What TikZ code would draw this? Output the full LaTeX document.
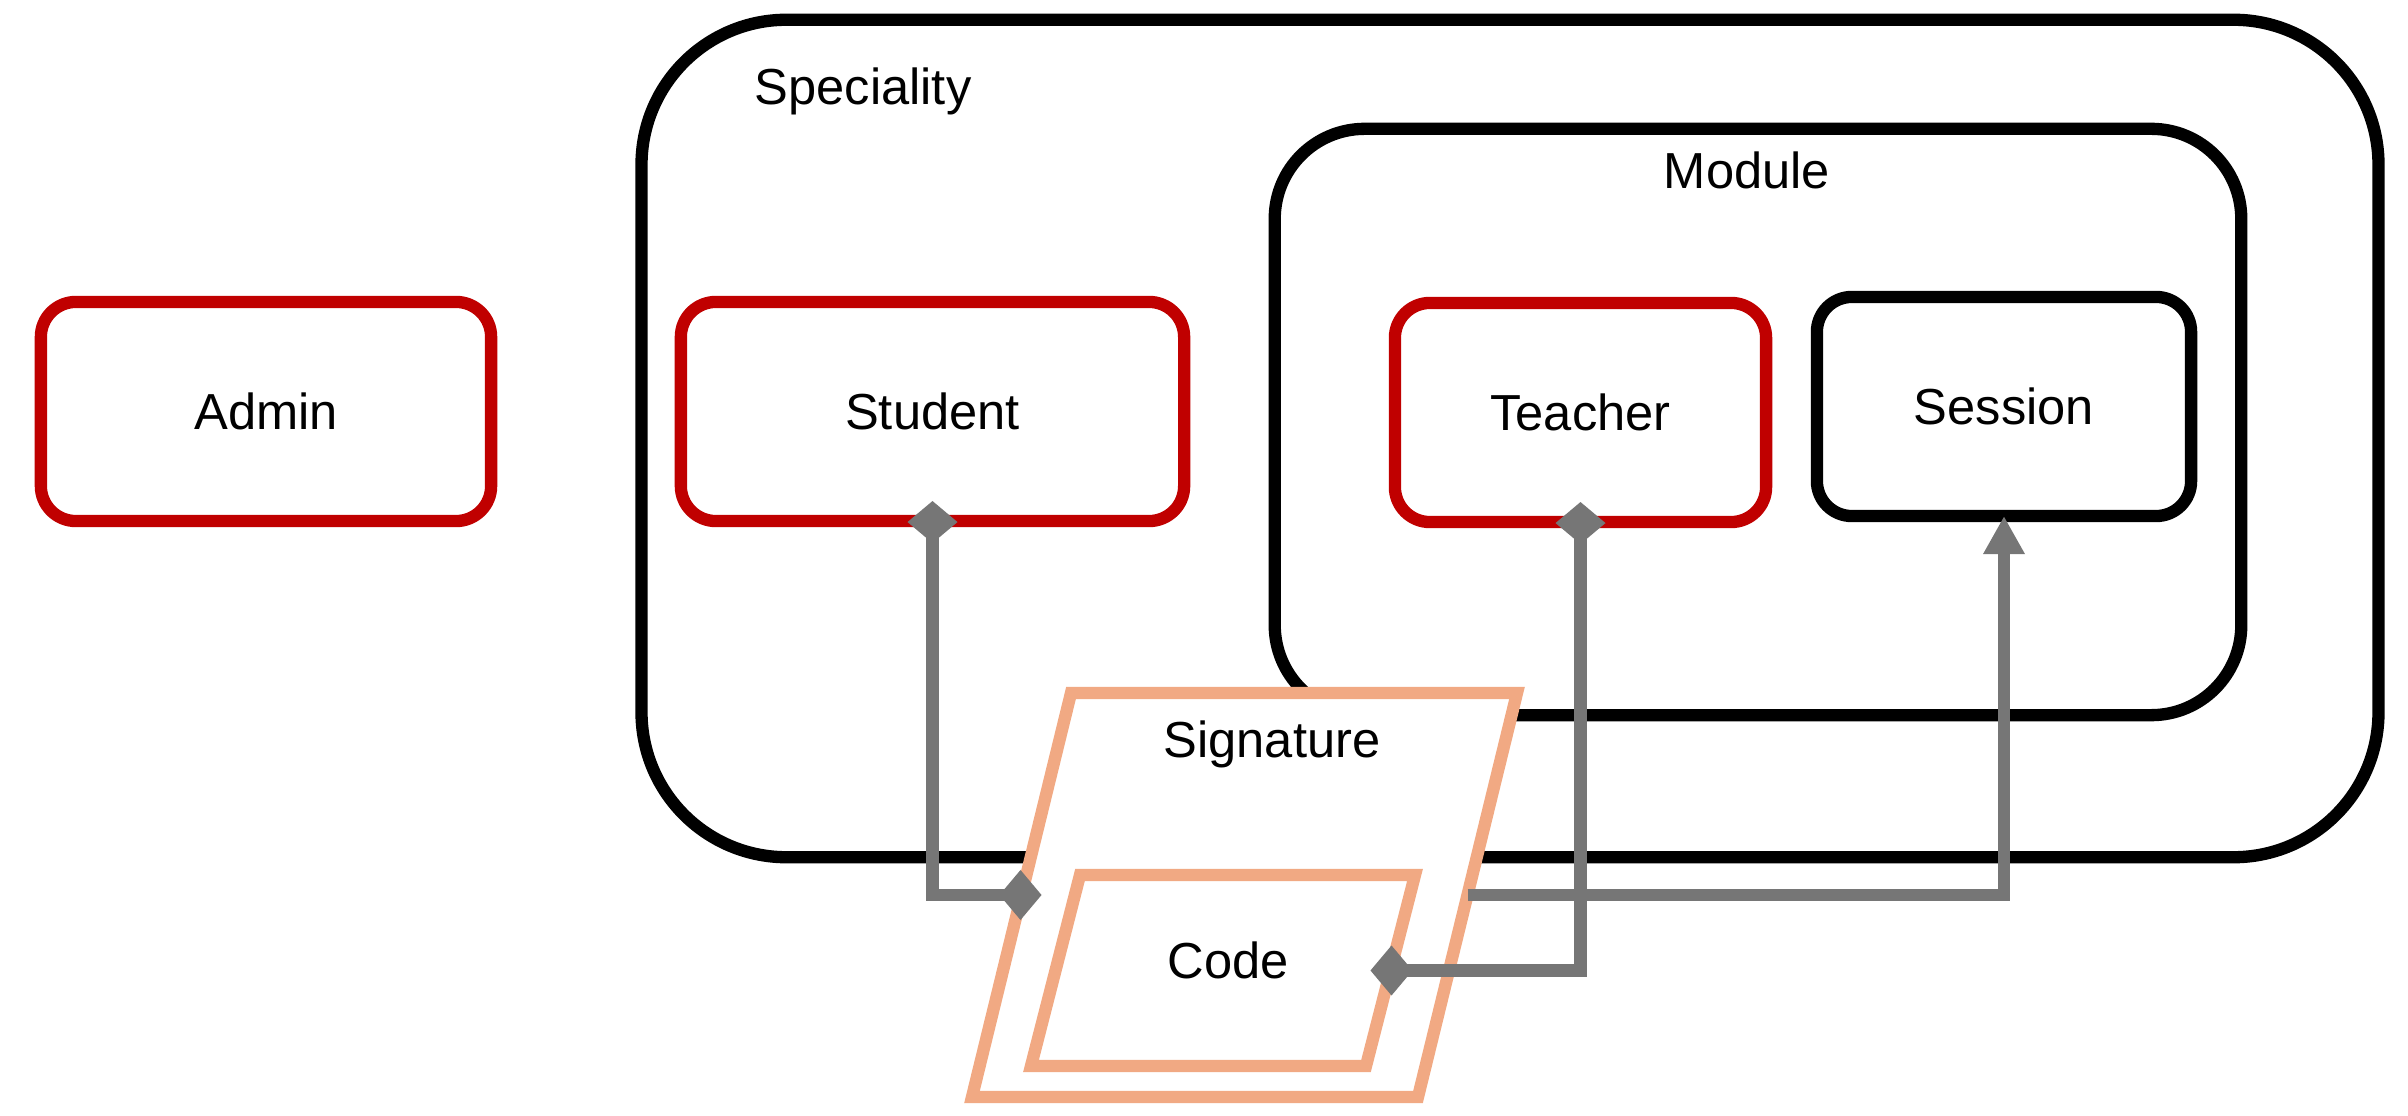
\documentclass[tikz,border=0pt]{standalone}
\usetikzlibrary{arrows.meta,calc}
\usepackage{fontspec}
\setmainfont{Liberation Sans}
\definecolor{rolered}{HTML}{C00000}
\definecolor{sigsalmon}{HTML}{F1A983}
\definecolor{linkgray}{HTML}{767676}

\begin{document}
\begin{tikzpicture}[x=0.01cm,y=-0.01cm,line width=3.5pt,
  font=\fontsize{14.4}{17}\selectfont,
  box/.style={draw,fill=white,rounded corners=0.35cm,inner sep=0,outer sep=0,minimum height=2.19cm},
  role/.style={box,draw=rolered},
  group/.style={draw,inner sep=0,outer sep=0},
  sigline/.style={draw=sigsalmon,fill=white},
  link/.style={draw=linkgray},
  own/.style={link,{Diamond[length=0.42cm,width=0.5cm]}-{Diamond[length=0.42cm,width=0.5cm]},
    shorten <=-0.2cm,shorten >=-0.2cm}]
\useasboundingbox (0,0) rectangle (2408,1116);

% containers
\node[group,minimum width=17.36cm,minimum height=8.37cm,rounded corners=1.45cm] (speciality) at (1510,438.5) {};
\node[anchor=base] (specialitylabel) at (863,105) {Speciality};
\node[group,minimum width=9.66cm,minimum height=5.86cm,rounded corners=0.9cm] (module) at (1758,422) {};
\node[anchor=base] (modulelabel) at (1747,189) {Module};

% entities
\node[role,minimum width=4.50cm] (admin) at (266,411.5) {Admin};
\node[role,minimum width=5.03cm] (student) at (932.5,411.5) {Student};
\node[role,minimum width=3.71cm] (teacher) at (1580.5,412.5) {Teacher};
\node[box,minimum width=3.74cm] (session) at (2004,406.5) {Session};

% signature and code
\draw[sigline] (1071,693) coordinate (s1) -- (1517,693) coordinate (s2)
  -- (1418,1097) coordinate (s3) -- (972,1097) coordinate (s4) -- cycle;
\coordinate (sigW) at ($(s1)!0.5!(s4)$);
\coordinate (sigE) at ($(s2)!0.5!(s3)$);
\node[anchor=base] (signature) at (1272,758) {Signature};
\draw[sigline] (1080,875) coordinate (c1) -- (1415,875) coordinate (c2)
  -- (1366,1066) coordinate (c3) -- (1031,1066) coordinate (c4) -- cycle;
\coordinate (codeE) at ($(c2)!0.5!(c3)$);
\node[anchor=base] (code) at (1228,979) {Code};

% links
\draw[own] (student.south) |- (sigW);
\draw[own] (teacher.south) |- (codeE);
\draw[link,-{Triangle[length=0.38cm,width=0.39cm]}] (sigE) -| (session.south);
\end{tikzpicture}
\end{document}
